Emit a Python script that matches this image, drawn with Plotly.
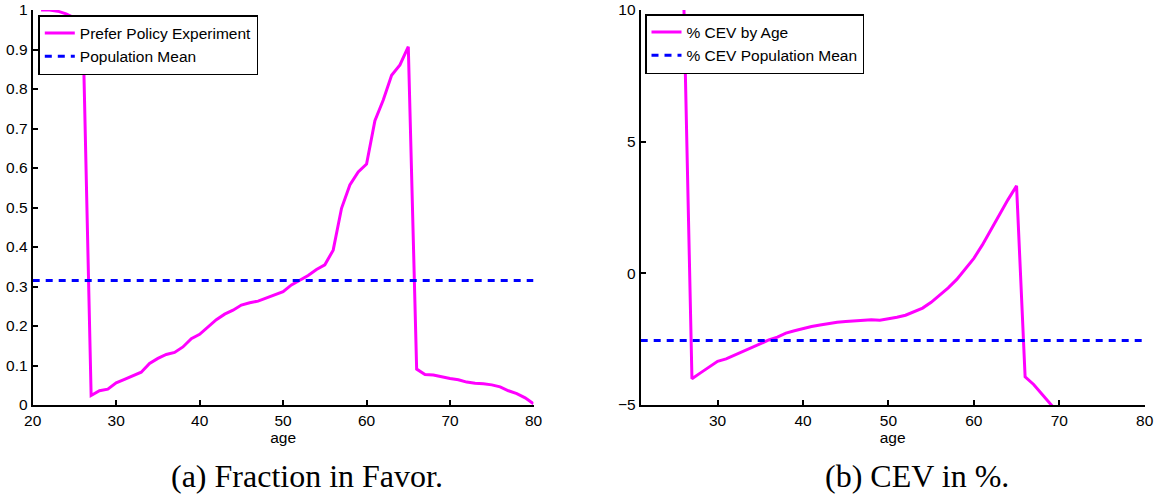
import plotly.graph_objects as go

# ---------------- data ----------------
age_frac = list(range(21, 81))
frac_favor = [1.0, 1.0, 0.997, 0.99, 0.98, 0.97, 0.024, 0.036, 0.040, 0.056,
              0.065, 0.074, 0.083, 0.105, 0.118, 0.128, 0.133, 0.147, 0.168, 0.179,
              0.198, 0.216, 0.230, 0.240, 0.253, 0.259, 0.263, 0.271, 0.278, 0.287,
              0.304, 0.316, 0.328, 0.343, 0.355, 0.392, 0.498, 0.557, 0.590, 0.610,
              0.720, 0.772, 0.835, 0.861, 0.907, 0.091, 0.077, 0.076, 0.071, 0.067,
              0.064, 0.058, 0.055, 0.054, 0.051, 0.046, 0.036, 0.029, 0.018, 0.003]
frac_mean = 0.315

age_cev = list(range(26, 71))
cev_by_age = [11.0, -4.0, -3.78, -3.56, -3.34, -3.25, -3.10, -2.97, -2.82, -2.68,
              -2.53, -2.42, -2.27, -2.18, -2.09, -2.02, -1.96, -1.90, -1.86, -1.83,
              -1.80, -1.78, -1.76, -1.78, -1.73, -1.67, -1.59, -1.47, -1.32, -1.10,
              -0.84, -0.55, -0.23, 0.15, 0.57, 1.08, 1.66, 2.25, 2.80, 3.32,
              -3.93, -4.22, -4.60, -4.95, -5.35]
cev_mean = -2.55

left_xrange = [20, 80]
right_xrange = [21, 80]
left_yticks = [0, 0.1, 0.2, 0.3, 0.4, 0.5, 0.6, 0.7, 0.8, 0.9, 1]
left_yticklabels = ["0", "0.1", "0.2", "0.3", "0.4", "0.5", "0.6", "0.7", "0.8", "0.9", "1"]

# ---------------- figure ----------------
W, H = 1161, 500
MAG = "#FF00FF"
BLU = "#0000FF"
SANS = "Liberation Sans, Arial, Helvetica, sans-serif"
SERIF = "Liberation Serif, Times New Roman, serif"
FS = 15.5


def px(xp):
    return xp / W


def py(yp):
    return (H - yp) / H


fig = go.Figure()
fig.add_trace(go.Scatter(x=age_frac, y=frac_favor, mode="lines",
                         line=dict(color=MAG, width=3), name="Prefer Policy Experiment",
                         xaxis="x", yaxis="y", legend="legend"))
fig.add_trace(go.Scatter(x=left_xrange, y=[frac_mean, frac_mean], mode="lines",
                         line=dict(color=BLU, width=3, dash="7px,6px"), name="Population Mean",
                         xaxis="x", yaxis="y", legend="legend"))
fig.add_trace(go.Scatter(x=age_cev, y=cev_by_age, mode="lines",
                         line=dict(color=MAG, width=3), name="% CEV by Age",
                         xaxis="x2", yaxis="y2", legend="legend2"))
fig.add_trace(go.Scatter(x=right_xrange, y=[cev_mean, cev_mean], mode="lines",
                         line=dict(color=BLU, width=3, dash="7px,6px"), name="% CEV Population Mean",
                         xaxis="x2", yaxis="y2", legend="legend2"))

axis_common = dict(showline=True, linecolor="black", linewidth=2, ticks="inside",
                   ticklen=5, tickwidth=1.5, tickcolor="black", showgrid=False,
                   zeroline=False, automargin=False,
                   tickfont=dict(family=SANS, size=FS, color="black"))

y_bot = py(405)
y_top = py(10)

fig.update_layout(
    width=W, height=H, autosize=False,
    margin=dict(l=0, r=0, t=0, b=0),
    paper_bgcolor="white", plot_bgcolor="white",
    showlegend=True,
    xaxis=dict(domain=[px(32.7), px(533.5)], range=left_xrange, dtick=10, tick0=20,
               anchor="y",
               title=dict(text="age", font=dict(family=SANS, size=FS, color="black"), standoff=0),
               **axis_common),
    yaxis=dict(domain=[y_bot, y_top], range=[0, 1], tickvals=left_yticks,
               ticktext=left_yticklabels, anchor="x", **axis_common),
    xaxis2=dict(domain=[px(640.7), px(1144.7)], range=right_xrange, dtick=10, tick0=20,
                anchor="y2",
                title=dict(text="age", font=dict(family=SANS, size=FS, color="black"), standoff=0),
                **axis_common),
    yaxis2=dict(domain=[y_bot, y_top], range=[-5, 10], dtick=5, tick0=0,
                anchor="x2", **axis_common),
    legend=dict(x=px(38.3), y=py(15), xanchor="left", yanchor="top",
                bgcolor="white", bordercolor="black", borderwidth=1.5,
                font=dict(family=SANS, size=FS, color="black"), tracegroupgap=0),
    legend2=dict(x=px(645), y=py(14), xanchor="left", yanchor="top",
                 bgcolor="white", bordercolor="black", borderwidth=1.5,
                 font=dict(family=SANS, size=FS, color="black"), tracegroupgap=0),
    annotations=[
        dict(text="(a) Fraction in Favor.", xref="paper", yref="paper",
             x=px(306.7), y=py(476), xanchor="center", yanchor="middle",
             showarrow=False, font=dict(family=SERIF, size=32, color="black")),
        dict(text="(b) CEV in %.", xref="paper", yref="paper",
             x=px(916.7), y=py(476), xanchor="center", yanchor="middle",
             showarrow=False, font=dict(family=SERIF, size=32, color="black")),
    ],
)

fig.write_html(
    "out.html",
    config={"displayModeBar": False},
    post_script="document.body.style.margin='0';document.body.style.overflow='hidden';",
)
